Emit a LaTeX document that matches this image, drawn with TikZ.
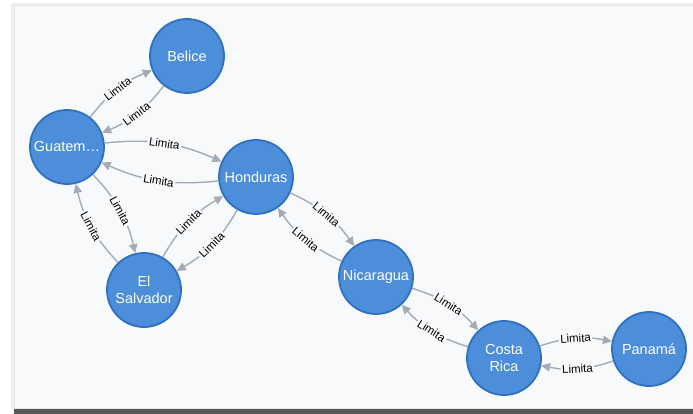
\documentclass[tikz,border=0pt]{standalone}
\usepackage{fontspec}
\setmainfont{Liberation Sans}
\usetikzlibrary{positioning,arrows.meta}
\definecolor{nodeblue}{HTML}{4C8EDA}
\definecolor{nodeedge}{HTML}{2F70C0}
\definecolor{relgray}{HTML}{A5ABB6}
\definecolor{panel}{HTML}{F8F9FB}
\definecolor{frame}{HTML}{E4E6E8}

\begin{document}
\begin{tikzpicture}[x=1pt,y=1pt,
  country/.style={circle,draw=nodeedge,line width=1.8pt,fill=nodeblue,text=white,
    minimum size=74pt,inner sep=0pt,align=center,font=\fontsize{14.5}{17}\selectfont},
  rel/.style={-{Triangle[length=9pt,width=8.5pt]},draw=relgray,line width=1.4pt,bend left=15},
  lbl/.style={sloped,fill=panel,inner sep=1.5pt,text=black,font=\fontsize{11.5}{13}\selectfont}]

\useasboundingbox (0,0) rectangle (693,-414);
\fill[white] (0,0) rectangle (693,-414);
\fill[black!6] (11,-3) rectangle (693,-410);
\fill[panel] (14,-5) rectangle (693,-408);
\draw[frame] (14,-5) rectangle (693,-408);
\fill[black!65] (14,-409) rectangle (693,-414);

\node (bz) [country] at (187,-56) {Belice};

\node (gt) [country] at (67,-147) {Guatem…};

\node (hn) [country] at (256,-177) {Honduras};

\node (sv) [country] at (144,-290) {El\\Salvador};

\node (ni) [country] at (376,-277) {Nicaragua};

\node (cr) [country] at (504,-358) {Costa\\Rica};

\node (pa) [country] at (649,-349) {Panamá};

\draw[rel] (gt) to node[lbl]{Limita} (bz);
\draw[rel] (bz) to node[lbl]{Limita} (gt);
\draw[rel] (gt) to node[lbl]{Limita} (hn);
\draw[rel] (hn) to node[lbl]{Limita} (gt);
\draw[rel] (gt) to node[lbl]{Limita} (sv);
\draw[rel] (sv) to node[lbl]{Limita} (gt);
\draw[rel] (sv) to node[lbl]{Limita} (hn);
\draw[rel] (hn) to node[lbl]{Limita} (sv);
\draw[rel] (hn) to node[lbl]{Limita} (ni);
\draw[rel] (ni) to node[lbl]{Limita} (hn);
\draw[rel] (ni) to node[lbl]{Limita} (cr);
\draw[rel] (cr) to node[lbl]{Limita} (ni);
\draw[rel] (cr) to node[lbl]{Limita} (pa);
\draw[rel] (pa) to node[lbl]{Limita} (cr);

\end{tikzpicture}
\end{document}
